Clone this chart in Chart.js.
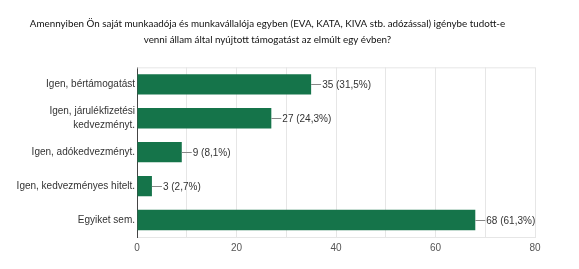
<!DOCTYPE html>
<html>
<head>
<meta charset="utf-8">
<script src="https://cdn.jsdelivr.net/npm/chart.js@4"></script>
<style>
  html, body { margin: 0; padding: 0; background: #fff; }
  #wrap { width: 579px; height: 269px; }
</style>
</head>
<body>
<div id="wrap"><canvas id="chart" width="579" height="269"></canvas></div>
<script>
// answers to the survey question
var categories = [
    'Igen, bértámogatást',
    ['Igen, járulékfizetési', 'kedvezményt.'],
    'Igen, adókedvezményt.',
    'Igen, kedvezményes hitelt.',
    'Egyiket sem.'
];
var counts = [35, 27, 9, 3, 68];
var percents = ['31,5', '24,3', '8,1', '2,7', '61,3'];
var xTicks = [0, 20, 40, 60, 80];

var titleLines = [
    'Amennyiben Ön saját munkaadója és munkavállalója egyben (EVA, KATA, KIVA stb. adózással) igénybe tudott-e',
    'venni állam által nyújtott támogatást az elmúlt egy évben?'
];

// value labels with a short leader line, plus the light frame around the plot
var barLabels = {
    id: 'barLabels',
    beforeDatasetsDraw: function (chart) {
        var a = chart.chartArea, ctx = chart.ctx;
        ctx.save();
        ctx.strokeStyle = '#e6e6e6';
        ctx.lineWidth = 1;
        ctx.beginPath();
        ctx.moveTo(a.left, a.top + 0.5);
        ctx.lineTo(a.right, a.top + 0.5);
        ctx.stroke();
        ctx.restore();
    },
    afterDatasetsDraw: function (chart) {
        var ctx = chart.ctx;
        var meta = chart.getDatasetMeta(0);
        ctx.save();
        ctx.font = '10px "Liberation Sans", Arial, sans-serif';
        ctx.textBaseline = 'middle';
        ctx.textAlign = 'left';
        meta.data.forEach(function (bar, i) {
            var x = bar.x, y = Math.round(bar.y) + 0.5;
            ctx.strokeStyle = '#888';
            ctx.lineWidth = 1;
            ctx.beginPath();
            ctx.moveTo(x, y);
            ctx.lineTo(x + 10, y);
            ctx.stroke();
            ctx.fillStyle = '#333';
            ctx.fillText(counts[i] + ' (' + percents[i] + '%)', x + 11, y + 0.5);
        });
        ctx.restore();
    }
};

var ctx = document.getElementById('chart').getContext('2d');
var chart = new Chart(ctx, {
    type: 'bar',
    data: {
        labels: categories,
        datasets: [{
            data: counts,
            backgroundColor: '#15744a',
            borderWidth: 0,
            barPercentage: 0.6,
            categoryPercentage: 1
        }]
    },
    options: {
        indexAxis: 'y',
        responsive: false,
        animation: false,
        layout: { padding: { left: 0, right: 44, top: 0, bottom: 0 } },
        plugins: {
            legend: { display: false },
            tooltip: { enabled: false },
            title: {
                display: true,
                text: titleLines,
                color: '#111',
                font: { family: 'Lato, "Open Sans", sans-serif', size: 9.8, weight: 'normal', lineHeight: 1.65 },
                padding: { top: 16, bottom: 19 }
            }
        },
        scales: {
            x: {
                min: 0,
                max: 80,
                afterFit: function (s) { s.height = 32; },
                afterBuildTicks: function (s) {
                    s.ticks = [];
                    for (var v = 0; v <= 80; v += 10) s.ticks.push({ value: v });
                },
                ticks: {
                    padding: 5,
                    color: '#555',
                    font: { family: '"Liberation Sans", Arial, sans-serif', size: 10 },
                    callback: function (v) { return xTicks.indexOf(v) >= 0 ? String(v) : ''; }
                },
                grid: {
                    drawTicks: false,
                    color: function (c) { return c.tick && c.tick.value === 0 ? '#444' : '#e6e6e6'; }
                },
                border: { display: true, color: '#e6e6e6' }
            },
            y: {
                afterFit: function (s) { s.width = 137; },
                ticks: {
                    padding: 2,
                    color: '#333',
                    font: { family: '"Liberation Sans", Arial, sans-serif', size: 10, lineHeight: 1.4 }
                },
                grid: { display: false, drawTicks: false },
                border: { display: true, color: '#444' }
            }
        }
    },
    plugins: [barLabels]
});
</script>
</body>
</html>
